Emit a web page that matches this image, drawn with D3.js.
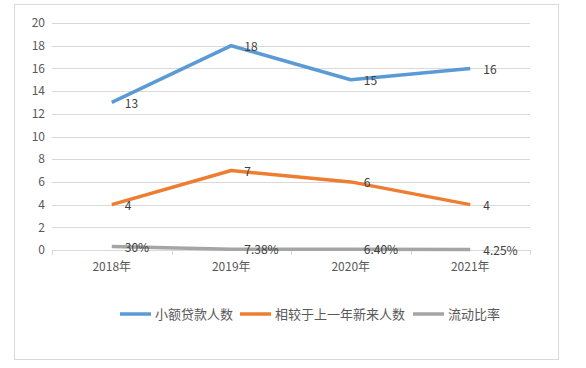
<!DOCTYPE html>
<html>
<head>
<meta charset="utf-8">
<script src="https://cdn.jsdelivr.net/npm/d3@7"></script>
<style>
  body { margin: 0; background: #fff; }
  text { font-family: "Noto Sans CJK SC", "Liberation Sans", sans-serif; }
</style>
</head>
<body>
<div id="chart"></div>
<script>
// Chart data
const years = ["2018年", "2019年", "2020年", "2021年"];
const loanCount = [13, 18, 15, 16];
const newCount = [4, 7, 6, 4];
const liquidityRatio = [0.30, 0.0738, 0.0640, 0.0425];
const liquidityLabels = ["30%", "7.38%", "6.40%", "4.25%"];
const yTicks = [0, 2, 4, 6, 8, 10, 12, 14, 16, 18, 20];
const seriesNames = ["小额贷款人数", "相较于上一年新来人数", "流动比率"];

const width = 586, height = 368;
const plot = { left: 52, right: 530, top: 23, bottom: 250 };

const svg = d3.select("#chart").append("svg")
    .attr("width", width)
    .attr("height", height);

// Outer frame
svg.append("rect")
    .attr("x", 14.5).attr("y", 4.5)
    .attr("width", 544).attr("height", 355)
    .attr("fill", "#fff")
    .attr("stroke", "#d9d9d9");

// Scales
const x = d3.scaleBand()
    .domain(years)
    .range([plot.left, plot.right]);

const y = d3.scaleLinear()
    .domain([0, 20])
    .range([plot.bottom, plot.top]);

// Gridlines
svg.append("g")
    .selectAll("line")
    .data(yTicks.filter(d => d > 0))
    .join("line")
    .attr("x1", plot.left).attr("x2", plot.right)
    .attr("y1", d => Math.round(y(d)) + 0.5)
    .attr("y2", d => Math.round(y(d)) + 0.5)
    .attr("stroke", "#d9d9d9");

// Y axis labels
svg.append("g")
    .selectAll("text")
    .data(yTicks)
    .join("text")
    .attr("x", 45)
    .attr("y", d => y(d))
    .attr("dy", "0.35em")
    .attr("text-anchor", "end")
    .attr("fill", "#595959")
    .style("font-size", "12px")
    .text(d => d);

// X axis with tick marks at band boundaries
const xAxis = svg.append("g");
xAxis.append("line")
    .attr("x1", plot.left).attr("x2", plot.right)
    .attr("y1", plot.bottom + 0.5).attr("y2", plot.bottom + 0.5)
    .attr("stroke", "#d9d9d9");
const boundaries = years.map(d => x(d)).concat([x(years[years.length - 1]) + x.bandwidth()]);
xAxis.selectAll("line.tick")
    .data(boundaries)
    .join("line")
    .attr("class", "tick")
    .attr("x1", d => Math.round(d) + 0.5).attr("x2", d => Math.round(d) + 0.5)
    .attr("y1", plot.bottom).attr("y2", plot.bottom + 5)
    .attr("stroke", "#d9d9d9");
xAxis.selectAll("text")
    .data(years)
    .join("text")
    .attr("x", d => x(d) + x.bandwidth() / 2)
    .attr("y", 267)
    .attr("dy", "0.35em")
    .attr("text-anchor", "middle")
    .attr("fill", "#595959")
    .style("font-size", "12px")
    .text(d => d);

// Series
const series = [
    { name: seriesNames[0], values: loanCount, labels: loanCount.map(String), color: "#5b9bd5" },
    { name: seriesNames[1], values: newCount, labels: newCount.map(String), color: "#ed7d31" },
    { name: seriesNames[2], values: liquidityRatio, labels: liquidityLabels, color: "#a5a5a5" }
];

const line = d3.line()
    .x((d, i) => x(years[i]) + x.bandwidth() / 2)
    .y(d => y(d));

// Draw gray first so the others sit on top
[2, 1, 0].forEach(k => {
    const s = series[k];
    svg.append("path")
        .attr("d", line(s.values))
        .attr("fill", "none")
        .attr("stroke", s.color)
        .attr("stroke-width", 3.5)
        .attr("stroke-linejoin", "round");
});

// Data labels
series.forEach(s => {
    svg.append("g")
        .selectAll("text")
        .data(s.values)
        .join("text")
        .attr("x", (d, i) => x(years[i]) + x.bandwidth() / 2 + 13)
        .attr("y", d => y(d) + 1)
        .attr("dy", "0.35em")
        .attr("fill", "#404040")
        .style("font-size", "12px")
        .text((d, i) => s.labels[i]);
});

// Legend
const legendPos = [120, 240, 413];
const legend = svg.append("g");
series.forEach((s, i) => {
    legend.append("line")
        .attr("x1", legendPos[i]).attr("x2", legendPos[i] + 31)
        .attr("y1", 314).attr("y2", 314)
        .attr("stroke", s.color)
        .attr("stroke-width", 3.5);
    legend.append("text")
        .attr("x", legendPos[i] + 35)
        .attr("y", 314)
        .attr("dy", "0.35em")
        .attr("fill", "#595959")
        .style("font-size", "13px")
        .text(s.name);
});
</script>
</body>
</html>
